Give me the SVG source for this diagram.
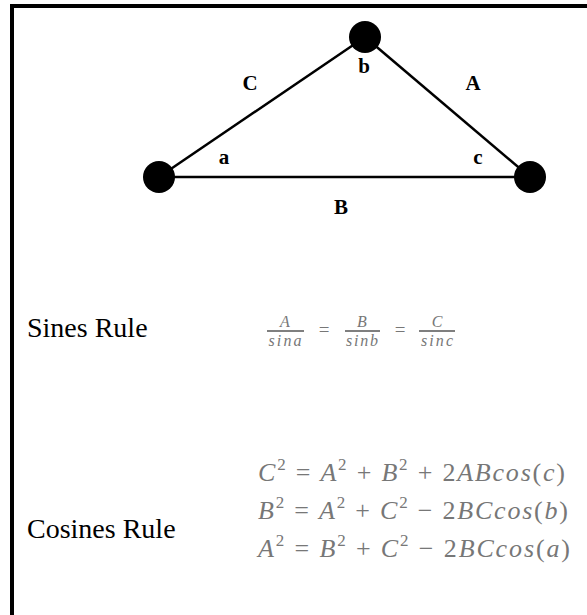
<svg xmlns="http://www.w3.org/2000/svg" width="587" height="615" viewBox="0 0 587 615">
<style>
.edge{stroke:#000;stroke-width:2.5;fill:none}
.node{fill:#000}
.lbl{font-family:"Liberation Serif",serif;font-weight:bold;font-size:21px;fill:#000;text-anchor:middle}
.head{font-family:"Liberation Serif",serif;font-size:28px;fill:#000}
.math{font-family:"Liberation Serif",serif;font-size:26px;fill:#777;font-style:italic}
.up{font-style:normal}
.sm{font-family:"Liberation Serif",serif;font-size:16px;fill:#777;font-style:italic;text-anchor:middle}
.fl{stroke:#555;stroke-width:1.5}
</style>
<rect x="0" y="0" width="587" height="615" fill="#fff"/>
<rect x="12" y="6" width="600" height="640" fill="none" stroke="#000" stroke-width="4"/>
<g id="connectors">
<line class="edge" x1="159" y1="177" x2="365" y2="37"/>
<line class="edge" x1="365" y1="37" x2="530" y2="177"/>
<line class="edge" x1="159" y1="177" x2="530" y2="177"/>
</g>
<g id="node-a"><circle class="node" cx="159" cy="177" r="16"/></g>
<g id="node-b"><circle class="node" cx="365" cy="37" r="16"/></g>
<g id="node-c"><circle class="node" cx="530" cy="177" r="16"/></g>
<g id="labels">
<text class="lbl" x="250" y="90">C</text>
<text class="lbl" x="473" y="90">A</text>
<text class="lbl" x="364" y="73">b</text>
<text class="lbl" x="224" y="164">a</text>
<text class="lbl" x="478" y="164">c</text>
<text class="lbl" x="341" y="214">B</text>
</g>
<text class="head" x="27" y="337">Sines Rule</text>
<g id="sines">
<text class="sm" x="285" y="327">A</text>
<line class="fl" x1="267" y1="331" x2="304" y2="331"/>
<text class="sm" x="285" y="346" textLength="33" lengthAdjust="spacing">sina</text>
<text class="sm" x="324" y="336" style="font-style:normal;font-size:19px">=</text>
<text class="sm" x="362" y="327">B</text>
<line class="fl" x1="345" y1="331" x2="380" y2="331"/>
<text class="sm" x="362" y="346" textLength="32" lengthAdjust="spacing">sinb</text>
<text class="sm" x="400" y="336" style="font-style:normal;font-size:19px">=</text>
<text class="sm" x="437" y="327">C</text>
<line class="fl" x1="419" y1="331" x2="455" y2="331"/>
<text class="sm" x="437" y="346" textLength="32" lengthAdjust="spacing">sinc</text>
</g>
<text class="head" x="27" y="538">Cosines Rule</text>
<g id="cosines">
<text class="math" x="258" y="481" textLength="307" lengthAdjust="spacing">C<tspan class="up" font-size="17" dy="-11">2</tspan><tspan class="up" dy="11"> = </tspan>A<tspan class="up" font-size="17" dy="-11">2</tspan><tspan class="up" dy="11"> + </tspan>B<tspan class="up" font-size="17" dy="-11">2</tspan><tspan class="up" dy="11"> + 2</tspan>ABcos<tspan class="up">(</tspan>c<tspan class="up">)</tspan></text>
<text class="math" x="258" y="519" textLength="310" lengthAdjust="spacing">B<tspan class="up" font-size="17" dy="-11">2</tspan><tspan class="up" dy="11"> = </tspan>A<tspan class="up" font-size="17" dy="-11">2</tspan><tspan class="up" dy="11"> + </tspan>C<tspan class="up" font-size="17" dy="-11">2</tspan><tspan class="up" dy="11"> − 2</tspan>BCcos<tspan class="up">(</tspan>b<tspan class="up">)</tspan></text>
<text class="math" x="258" y="557" textLength="312" lengthAdjust="spacing">A<tspan class="up" font-size="17" dy="-11">2</tspan><tspan class="up" dy="11"> = </tspan>B<tspan class="up" font-size="17" dy="-11">2</tspan><tspan class="up" dy="11"> + </tspan>C<tspan class="up" font-size="17" dy="-11">2</tspan><tspan class="up" dy="11"> − 2</tspan>BCcos<tspan class="up">(</tspan>a<tspan class="up">)</tspan></text>
</g>
</svg>
